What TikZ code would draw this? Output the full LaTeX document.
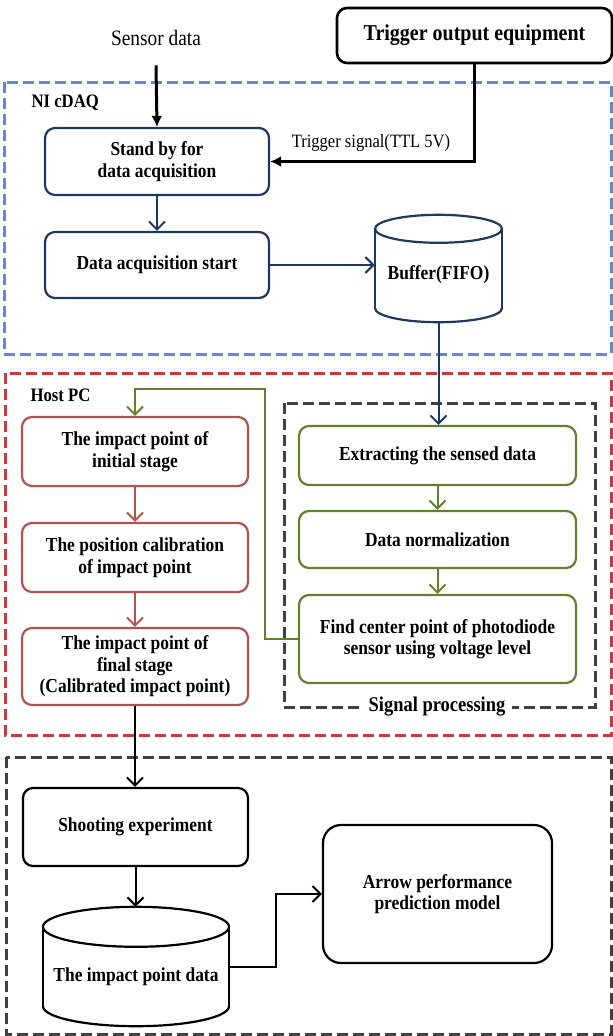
\documentclass[tikz,border=0pt]{standalone}
\usepackage{fontspec}
\setmainfont[FakeStretch=0.88]{Liberation Serif}
\usetikzlibrary{arrows.meta,calc}
\definecolor{navy}{RGB}{31,56,99}
\definecolor{dblue}{RGB}{91,141,214}
\definecolor{dred}{RGB}{200,58,63}
\definecolor{bred}{RGB}{180,82,80}
\definecolor{bgreen}{RGB}{98,129,45}
\definecolor{dgrey}{RGB}{64,64,64}
\begin{document}
\begin{tikzpicture}[x=1pt,y=-1pt,
  boxfont/.style={font=\fontsize{19.8}{21.5}\selectfont\bfseries},
  box/.style={rounded corners=10pt, line width=2.2pt, align=center, inner sep=2pt, boxfont},
  navybox/.style={box, draw=navy},
  redbox/.style={box, draw=bred},
  greenbox/.style={box, draw=bgreen},
  blackbox/.style={box, draw=black},
  frame/.style={line width=3pt, dash pattern=on 11pt off 5pt},
  vhead/.style={line width=2pt, -{Straight Barb[length=8pt,width=16pt]}},
  bighead/.style={line width=3pt, -{Latex[length=11pt,width=11pt]}},
  cyl/.style={line width=2.2pt}
]
\useasboundingbox (0,0) rectangle (613,1036);

% frames
\draw[frame, draw=dblue] (4,82) rectangle (611,354);
\draw[frame, draw=dred] (5,373) rectangle (611,735);
\draw[frame, draw=dgrey] (6,757) rectangle (611,1034);
\draw[frame, draw=dgrey] (284,403) rectangle (595,707);
\node[fill=white, inner xsep=7pt, inner ysep=2pt, font=\fontsize{21}{22}\selectfont\bfseries] (sp) at (437,707) {Signal processing};

\node[anchor=west, font=\fontsize{19}{20}\selectfont\bfseries] (nicdaq) at (28,103) {NI cDAQ};
\node[anchor=west, font=\fontsize{19}{20}\selectfont\bfseries] (hostpc) at (27,395) {Host PC};

% top
\node[font=\fontsize{22}{23}\selectfont] (sensor) at (156,38) {Sensor data};
\node[blackbox, line width=2.6pt, minimum width=275pt, minimum height=55pt, font=\fontsize{22.7}{24}\selectfont\bfseries] (trig) at (474.5,35.5) {Trigger output equipment};

% NI cDAQ
\node[navybox, minimum width=224pt, minimum height=67pt] (stand) at (157,161.5) {Stand by for\\data acquisition};
\node[navybox, minimum width=224pt, minimum height=66pt] (acq) at (157,265) {Data acquisition start};
\node[minimum width=127pt, minimum height=107pt, inner sep=0pt,
      label={[boxfont, yshift=-6pt]center:Buffer(FIFO)}] (buf) at (438.5,268.5) {};
\draw[navy, cyl] ($(buf.north west)+(0,14)$) -- ($(buf.south west)+(0,-14)$);
\draw[navy, cyl] ($(buf.north east)+(0,14)$) -- ($(buf.south east)+(0,-14)$);
\draw[navy, cyl] ($(buf.north)+(0,14)$) ellipse[x radius=63.5pt, y radius=14pt];
\begin{scope}
  \clip ($(buf.south west)+(-3,-14)$) rectangle ($(buf.south east)+(3,3)$);
  \draw[navy, cyl] ($(buf.south)+(0,-14)$) ellipse[x radius=63.5pt, y radius=14pt];
\end{scope}
\node[font=\fontsize{18.8}{20}\selectfont] (tlbl) at (371,143) {Trigger signal(TTL 5V)};

% Host PC
\node[redbox, minimum width=226pt, minimum height=69pt] (r1) at (135,451.5) {The impact point of\\initial stage};
\node[redbox, minimum width=226pt, minimum height=69pt] (r2) at (135,557.5) {The position calibration\\of impact point};
\node[redbox, minimum width=226pt, minimum height=77pt] (r3) at (135,666.5) {The impact point of\\final stage\\(Calibrated impact point)};

\node[greenbox, minimum width=277pt, minimum height=59pt] (g1) at (437.5,455.5) {Extracting the sensed data};
\node[greenbox, minimum width=277pt, minimum height=57pt] (g2) at (437.5,539.5) {Data normalization};
\node[greenbox, minimum width=277pt, minimum height=88pt] (g3) at (437.5,639) {Find center point of photodiode\\sensor using voltage level};

% bottom
\node[blackbox, minimum width=225pt, minimum height=78pt] (shoot) at (135.5,827) {Shooting experiment};
\node[minimum width=186pt, minimum height=119pt, inner sep=0pt,
      label={[boxfont, yshift=-10pt]center:The impact point data}] (data) at (136,966.5) {};
\draw[cyl] ($(data.north west)+(0,20)$) -- ($(data.south west)+(0,-20)$);
\draw[cyl] ($(data.north east)+(0,20)$) -- ($(data.south east)+(0,-20)$);
\draw[cyl] ($(data.north)+(0,20)$) ellipse[x radius=93pt, y radius=20pt];
\begin{scope}
  \clip ($(data.south west)+(-3,-20)$) rectangle ($(data.south east)+(3,3)$);
  \draw[cyl] ($(data.south)+(0,-20)$) ellipse[x radius=93pt, y radius=20pt];
\end{scope}
\node[blackbox, rounded corners=18pt, minimum width=229pt, minimum height=138pt] (model) at (437.5,894) {Arrow performance\\prediction model};

% connectors
\draw[bighead] ([yshift=-16pt]sensor.south) -- (stand.north);
\draw[bighead] (trig.south) |- (stand.east);
\draw[navy, vhead] (stand) -- (acq);
\draw[navy, vhead] (acq.east) -- (acq.east -| buf.west);
\draw[navy, vhead] (buf.south) -- (buf.south |- g1.north);
\draw[bgreen, vhead] (g1) -- (g2);
\draw[bgreen, vhead] (g2) -- (g3);
\draw[bgreen, vhead] (g3.west) -| (265,389) -| (r1.north);
\draw[bred, vhead] (r1) -- (r2);
\draw[bred, vhead] (r2) -- (r3);
\draw[black, vhead] (r3.south) -- (r3.south |- shoot.north);
\draw[black, vhead] (shoot.south) -- (shoot.south |- data.north);
\draw[black, vhead] (data.east) -| ($(data.east)!.5!(model.west)$) |- (model.west);
\end{tikzpicture}
\end{document}
